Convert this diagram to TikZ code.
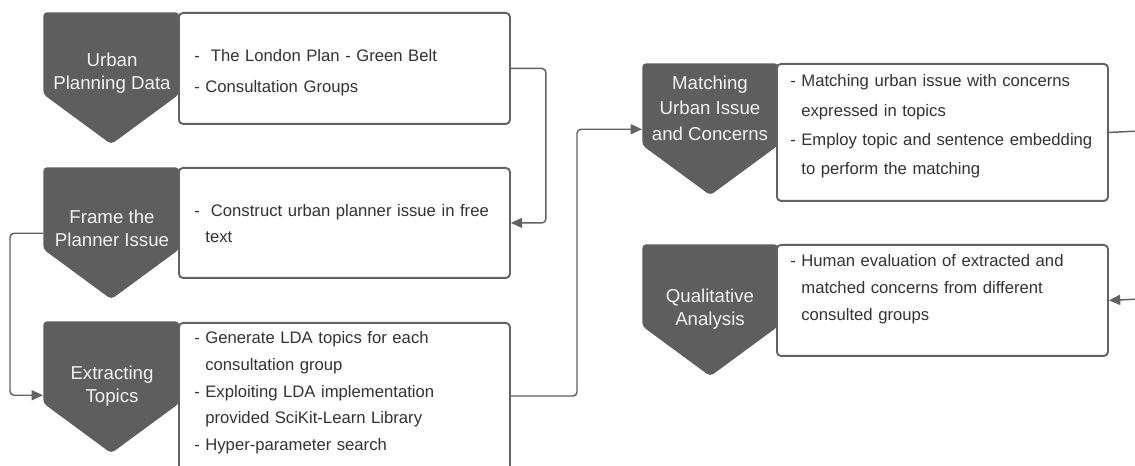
\documentclass[tikz,border=0pt]{standalone}
\usepackage{fontspec}
\setmainfont{Liberation Sans}
\usetikzlibrary{arrows.meta}
\definecolor{pentfill}{RGB}{94,94,94}
\definecolor{edgec}{RGB}{98,98,98}
\definecolor{txtc}{RGB}{51,51,51}
\definecolor{ptxtc}{RGB}{242,242,242}
\newcommand\ind{\hphantom{- }}
\tikzset{
  pent/.style={minimum width=102pt, minimum height=99pt, inner sep=0pt, anchor=north west,
    path picture={\fill[pentfill, rounded corners=3pt]
      (path picture bounding box.north west) -- (path picture bounding box.north east)
      -- ([yshift=37.5pt]path picture bounding box.south east)
      -- (path picture bounding box.south)
      -- ([yshift=37.5pt]path picture bounding box.south west) -- cycle;}},
  ptext/.style={text=ptxtc, align=center, font=\fontsize{14}{17}\selectfont, inner sep=0pt},
  box/.style={draw=edgec, line width=1.4pt, rounded corners=3pt, fill=white, anchor=north west,
    inner sep=0pt, minimum width=248.25pt},
  btext/.style={text=txtc, anchor=base west, align=left, text width=245pt, inner sep=0pt},
  conn/.style={draw=edgec, line width=1.1pt, rounded corners=3pt},
  arr/.style={-{Triangle[length=8.5pt,width=7.5pt]}}
}
\begin{document}
\begin{tikzpicture}[x=0.75pt,y=-0.75pt]
\clip (0,0) rectangle (1135,466);
\fill[white] (0,0) rectangle (1135,466);
% left column
\node[pent] (p1) at (43,12) {};
\node[box, minimum height=83.25pt] (b1) at (178,12) {};
\node[ptext] (p1t) at (112,73) {Urban\\Planning Data};
\node[btext, font=\fontsize{12.5}{23.25}\selectfont] (b1t) at (194,62) {-\ \ The London Plan - Green Belt\\- Consultation Groups};

\node[pent] (p2) at (43,167) {};
\node[box, minimum height=82.5pt] (b2) at (178,167) {};
\node[ptext] (p2t) at (112,228) {Frame the\\Planner Issue};
\node[btext, font=\fontsize{12.5}{19.5}\selectfont] (b2t) at (194,217) {-\ \ Construct urban planner issue in free\\\ind text};

\node[pent] (p3) at (43,321) {};
\node[box, minimum height=130pt] (b3) at (178,322) {};
\node[ptext] (p3t) at (112,386) {Extracting\\Topics};
\node[btext, font=\fontsize{12.5}{19.9}\selectfont] (b3t) at (194,344) {- Generate LDA topics for each\\\ind consultation group\\- Exploiting LDA implementation\\\ind provided SciKit-Learn Library\\- Hyper-parameter search};

% right column
\node[pent] (p4) at (642,63) {};
\node[box, minimum height=102.75pt] (b4) at (776,63) {};
\node[ptext, font=\fontsize{14}{19}\selectfont] (p4t) at (710,108) {Matching\\Urban Issue\\and Concerns};
\node[btext, font=\fontsize{12.5}{22}\selectfont] (b4t) at (790,87) {- Matching urban issue with concerns\\\ind expressed in topics\\- Employ topic and sentence embedding\\\ind to perform the matching};

\node[pent] (p5) at (642,244) {};
\node[box, minimum height=83.25pt] (b5) at (776,244) {};
\node[ptext] (p5t) at (710,309) {Qualitative\\Analysis};
\node[btext, font=\fontsize{12.5}{20.25}\selectfont] (b5t) at (790,267) {- Human evaluation of extracted and\\\ind matched concerns from different\\\ind consulted groups};

% connectors
\coordinate (b3o) at (510,396);
\coordinate (outr) at (1140,131);
\coordinate (inr) at (1140,299);
\draw[conn, arr] (b1.east) -- ++(35,0) |- (b2.east);
\draw[conn, arr] (p2.west) -- ++(-33,0) |- ([yshift=-6pt]p3.west);
\draw[conn, arr] (b3o) -- ++(67,0) |- (p4.west);
\draw[conn] (b4.east) -- (outr);
\draw[conn, arr] (inr) -- (b5.east);
\end{tikzpicture}
\end{document}
